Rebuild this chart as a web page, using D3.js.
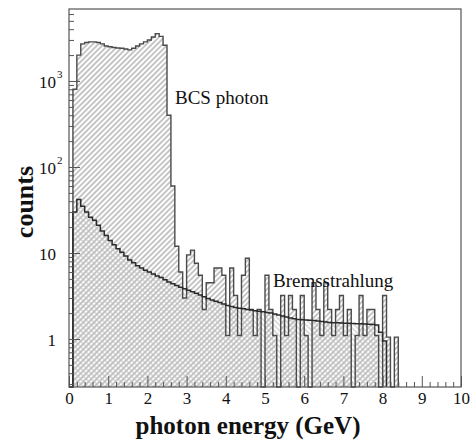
<!DOCTYPE html>
<html>
<head>
<meta charset="utf-8">
<script src="https://cdn.jsdelivr.net/npm/d3@7"></script>
<style>
  body { margin: 0; background: #fff; }
</style>
</head>
<body>
<svg id="chart" width="474" height="442"></svg>
<script>
// histogram bins are 0.1 GeV wide, starting at 0
const binWidth = 0.1;

// BCS photon spectrum (counts per bin)
const bcsCounts = [
  0, 800, 2000, 2700, 2800, 2850, 2850, 2800, 2700, 2550,
  2500, 2450, 2420, 2400, 2350, 2300, 2400, 2550, 2700, 2850,
  3000, 3250, 3550, 3300, 2600, 400, 60, 12, 6, 3,
  9.5, 10.8, 7.6, 5.5, 2.2, 4.5, 4.5, 6.7, 6.7, 5.5,
  1.1, 6.7, 3.2, 1.1, 5.5, 8.7, 2.2, 1.1, 2.2, 0,
  5.5, 2.2, 1.1, 0, 3.2, 1.1, 3.2, 2.2, 0, 3.2,
  1.1, 0, 4.5, 2.2, 1.1, 4.5, 2.2, 1.1, 2.2, 3.2,
  1.1, 2.2, 0, 1.1, 3.2, 1.1, 2.2, 2.2, 1.1, 0,
  3.2, 1.05, 0, 1.05
];

// Bremsstrahlung background (counts per bin)
const bremsCounts = [
  0, 30, 42, 35, 30, 26, 24, 21, 18, 16,
  14, 12.5, 11.2, 10.2, 9.2, 8.3, 7.7, 7.1, 6.7, 6.3,
  6.0, 5.7, 5.4, 5.2, 4.9, 4.6, 4.4, 4.2, 4.0, 3.85,
  3.7, 3.55, 3.4, 3.25, 3.1, 2.95, 2.85, 2.75, 2.65, 2.55,
  2.45, 2.38, 2.32, 2.28, 2.24, 2.2, 2.17, 2.13, 2.1, 2.07,
  2.03, 2.0, 1.95, 1.9, 1.85, 1.8, 1.75, 1.72, 1.69, 1.67,
  1.66, 1.65, 1.64, 1.62, 1.6, 1.58, 1.56, 1.55, 1.54, 1.53,
  1.52, 1.52, 1.51, 1.5, 1.5, 1.49, 1.48, 1.47, 1.45, 1.2,
  0.95
];

const xMajor = [0, 1, 2, 3, 4, 5, 6, 7, 8, 9, 10];
const yDecades = [1, 10, 100, 1000];
const yLabels = [["1", ""], ["10", ""], ["10", "2"], ["10", "3"]];

const serif = '"Liberation Serif", "Times New Roman", Times, serif';

const svg = d3.select("#chart");

const frameLeft = 69, frameRight = 461, frameTop = 9, frameBottom = 387;

const x = d3.scaleLinear().domain([0, 10]).range([frameLeft, frameRight]);
const y = d3.scaleLog().domain([0.2766, 6870]).range([frameBottom, frameTop]);
const yMin = y.domain()[0];

// hatch patterns
const defs = svg.append("defs");
function hatch(id, angle, color, gap) {
  const p = defs.append("pattern")
    .attr("id", id)
    .attr("patternUnits", "userSpaceOnUse")
    .attr("width", gap)
    .attr("height", gap)
    .attr("patternTransform", `rotate(${angle})`);
  p.append("line")
    .attr("x1", gap / 2).attr("y1", 0)
    .attr("x2", gap / 2).attr("y2", gap)
    .attr("stroke", color)
    .attr("stroke-width", 1);
}
hatch("hatchBcs", 45, "#8e8e8e", 3.8);
hatch("hatchBrems", -45, "#bdbdbd", 3.8);

// turn bin contents into step points; empty bins sit on the frame bottom
function stepPoints(counts) {
  const pts = [[x(0), frameBottom]];
  counts.forEach((v, i) => {
    const yy = y(Math.max(v, yMin));
    pts.push([x(i * binWidth), yy]);
    pts.push([x((i + 1) * binWidth), yy]);
  });
  pts.push([x(counts.length * binWidth), frameBottom]);
  return pts;
}

const line = d3.line();
const bcsPts = stepPoints(bcsCounts);
const bremsPts = stepPoints(bremsCounts);

// fills
svg.append("path")
  .attr("d", line(bcsPts) + "Z")
  .attr("fill", "url(#hatchBcs)")
  .attr("stroke", "none");

svg.append("path")
  .attr("d", line(bremsPts) + "Z")
  .attr("fill", "url(#hatchBrems)")
  .attr("stroke", "none");

// outlines
svg.append("path")
  .attr("d", line(bcsPts))
  .attr("fill", "none")
  .attr("stroke", "#4a4a4a")
  .attr("stroke-width", 1.4);

svg.append("path")
  .attr("d", line(bremsPts))
  .attr("fill", "none")
  .attr("stroke", "#2a2a2a")
  .attr("stroke-width", 1.5);

// x axis ticks (inward)
const xMinor = d3.range(0, 50).map(i => i * 0.2).filter((v, i) => i % 5 !== 0);
svg.append("g")
  .attr("transform", `translate(0,${frameBottom})`)
  .call(d3.axisBottom(x).tickValues(xMinor).tickSize(-5).tickFormat(""))
  .call(g => g.select(".domain").remove());
svg.append("g")
  .attr("transform", `translate(0,${frameBottom})`)
  .call(d3.axisBottom(x).tickValues(xMajor).tickSize(-11).tickPadding(5).tickFormat(d3.format("d")))
  .call(g => g.select(".domain").remove())
  .call(g => g.selectAll("text")
    .style("font-family", serif)
    .style("font-size", "17px")
    .attr("fill", "#111"));

// y axis ticks (inward)
const yMinor = [];
[0.1, 1, 10, 100, 1000].forEach(d => {
  for (let k = 2; k <= 9; k++) {
    const v = k * d;
    if (v >= yMin && v <= y.domain()[1]) yMinor.push(v);
  }
});
svg.append("g")
  .attr("transform", `translate(${frameLeft},0)`)
  .call(d3.axisLeft(y).tickValues(yMinor).tickSize(-5).tickFormat(""))
  .call(g => g.select(".domain").remove());
svg.append("g")
  .attr("transform", `translate(${frameLeft},0)`)
  .call(d3.axisLeft(y).tickValues(yDecades).tickSize(-11).tickFormat(""))
  .call(g => g.select(".domain").remove());
svg.selectAll(".tick line").attr("stroke", "#555");

// y tick labels with powers of ten
yDecades.forEach((v, i) => {
  const [base, sup] = yLabels[i];
  svg.append("text")
    .attr("x", 56)
    .attr("y", y(v) + 7)
    .attr("text-anchor", "end")
    .style("font-family", serif)
    .style("font-size", "17px")
    .attr("fill", "#111")
    .text(base);
  if (sup) {
    svg.append("text")
      .attr("x", 57)
      .attr("y", y(v) - 3)
      .style("font-family", serif)
      .style("font-size", "11px")
      .attr("fill", "#111")
      .text(sup);
  }
});

// frame
svg.append("rect")
  .attr("x", frameLeft)
  .attr("y", frameTop)
  .attr("width", frameRight - frameLeft)
  .attr("height", frameBottom - frameTop)
  .attr("fill", "none")
  .attr("stroke", "#555")
  .attr("stroke-width", 1.2);

// axis titles
svg.append("text")
  .attr("x", 248)
  .attr("y", 434)
  .attr("text-anchor", "middle")
  .style("font-family", serif)
  .style("font-size", "25px")
  .style("font-weight", "bold")
  .attr("fill", "#111")
  .text("photon energy (GeV)");

svg.append("text")
  .attr("transform", "translate(33,202) rotate(-90)")
  .attr("text-anchor", "middle")
  .style("font-family", serif)
  .style("font-size", "26px")
  .style("font-weight", "bold")
  .attr("fill", "#111")
  .text("counts");

// annotations
svg.append("text")
  .attr("x", 175)
  .attr("y", 104)
  .style("font-family", serif)
  .style("font-size", "19px")
  .attr("fill", "#111")
  .text("BCS photon");

svg.append("text")
  .attr("x", 273)
  .attr("y", 287)
  .style("font-family", serif)
  .style("font-size", "19px")
  .attr("fill", "#111")
  .text("Bremsstrahlung");
</script>
</body>
</html>
